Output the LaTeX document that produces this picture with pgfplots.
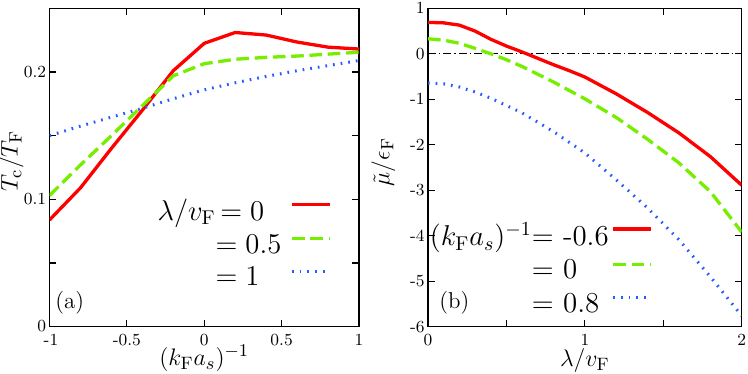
\documentclass[border=0pt]{standalone}
\usepackage{pgfplots}
\pgfplotsset{compat=1.18}
\definecolor{cred}{RGB}{255,0,0}
\definecolor{cgreen}{RGB}{118,238,0}
\definecolor{cblue}{RGB}{40,90,255}
\begin{document}
\begin{tikzpicture}
\path[use as bounding box] (0,0) rectangle (374bp,187bp);
\pgfplotsset{
  every axis/.append style={
    scale only axis, height=159.2bp,
    axis line style={line width=0.6bp},
    every tick/.style={black,line width=0.6bp},
    major tick length=3.5bp, tick align=inside,
    ticklabel style={font=\fontsize{8.5}{10}\selectfont},
    yticklabel style={inner sep=1.5bp},
    label style={font=\fontsize{13}{15}\selectfont},
    legend plot pos=right,
    legend cell align=left,
    legend image code/.code={\draw[##1] (0bp,3.3bp) -- (19bp,3.3bp);},
  },
  sred/.style={cred, line width=1.65bp},
  sgreen/.style={cgreen, line width=1.65bp, dash pattern=on 6.3bp off 2.85bp},
  sblue/.style={cblue, line width=1.5bp, dash pattern=on 0.85bp off 3bp},
}
\begin{axis}[at={(24.75bp,23.65bp)}, anchor=south west, width=154.75bp,
  xmin=-1, xmax=1, ymin=0, ymax=0.25,
  xtick={-1,-0.5,0,0.5,1}, xticklabels={\hspace{1.5bp}-1,-0.5,0,0.5,1},
  ytick={0,0.05,0.1,0.15,0.2,0.25}, yticklabels={\smash{\raisebox{-2.4bp}{0}}\hspace{5bp},{},0.1,{},0.2,{}},
  xlabel={$(k_{\rm F}a_s)^{-1}$}, ylabel={$T_{\rm c}/T_{\rm F}$},
  xlabel style={at={(axis description cs:0.5,-0.10)}, anchor=center},
  ylabel style={at={(axis description cs:-0.122,0.52)}, anchor=center},
  legend style={draw=none, fill=none, inner sep=0pt, font=\fontsize{14.5}{17}\selectfont,
    nodes={inner sep=0pt},
    at={(0.913,0.402)}, anchor=north east, column sep=4.5bp, row sep=5.5bp},
]
\addplot[sred] coordinates {(-1,0.0838)(-0.8,0.109)(-0.6,0.140)(-0.4,0.170)(-0.2,0.201)(0,0.2225)(0.2,0.231)(0.4,0.229)(0.6,0.2235)(0.8,0.2195)(1,0.218)};
\addplot[sgreen] coordinates {(-1,0.103)(-0.8,0.127)(-0.6,0.150)(-0.4,0.1735)(-0.2,0.197)(0,0.2065)(0.2,0.210)(0.4,0.2115)(0.6,0.2125)(0.8,0.214)(1,0.2155)};
\addplot[sblue] coordinates {(-1,0.150)(-0.8,0.1575)(-0.6,0.1645)(-0.4,0.1715)(-0.2,0.179)(0,0.186)(0.2,0.1915)(0.4,0.1965)(0.6,0.201)(0.8,0.205)(1,0.209)};
\legend{\llap{$\lambda/v_{\rm F}$}$\,=0$,$=0.5$,$=1$}
\node[anchor=west, inner sep=0pt, font=\fontsize{11.5}{13}\selectfont] at (rel axis cs:0.018,0.074) {(a)};
\end{axis}
\begin{axis}[at={(214bp,23.65bp)}, anchor=south west, width=156.85bp,
  xmin=0, xmax=2, ymin=-6, ymax=1,
  xtick={0,0.5,1,1.5,2}, xticklabels={0,{},1,{},2},
  ytick={-6,-5,-4,-3,-2,-1,0,1}, yticklabels={-6,-5,-4,-3,-2,-1,0,1},
  xlabel={$\lambda/v_{\rm F}$}, ylabel={$\tilde{\mu}/\epsilon_{\rm F}$},
  xlabel style={at={(axis description cs:0.5,-0.107)}, anchor=center},
  ylabel style={at={(axis description cs:-0.142,0.517)}, anchor=center},
  legend style={draw=none, fill=none, inner sep=0pt, font=\fontsize{14.5}{17}\selectfont,
    nodes={inner sep=0pt},
    at={(0.7185,0.3285)}, anchor=north east, column sep=1.5bp, row sep=5.5bp},
]
\addplot[black, line width=0.4bp, dash pattern=on 4bp off 1.5bp on 0.7bp off 1.5bp, forget plot] coordinates {(0,0)(2,0)};
\addplot[sred] coordinates {(0,0.69)(0.1,0.68)(0.2,0.63)(0.3,0.50)(0.4,0.32)(0.5,0.17)(0.6,0.04)(0.7,-0.1)(0.8,-0.24)(0.9,-0.37)(1.0,-0.51)(1.2,-0.88)(1.4,-1.29)(1.6,-1.74)(1.8,-2.26)(2.0,-2.89)};
\addplot[sgreen] coordinates {(0,0.33)(0.1,0.30)(0.2,0.23)(0.3,0.12)(0.4,0.0)(0.5,-0.13)(0.6,-0.28)(0.8,-0.62)(1.0,-0.99)(1.2,-1.40)(1.4,-1.88)(1.6,-2.40)(1.8,-3.03)(2.0,-3.92)};
\addplot[sblue] coordinates {(0,-0.645)(0.1,-0.66)(0.2,-0.73)(0.3,-0.84)(0.4,-0.975)(0.6,-1.30)(0.8,-1.71)(1.0,-2.18)(1.2,-2.77)(1.4,-3.39)(1.6,-4.09)(1.8,-4.90)(2.0,-5.76)};
\legend{\llap{$(k_{\rm F}a_s)^{-1}$}$=$ -0.6,$=$ 0,$=$ 0.8}
\node[anchor=west, inner sep=0pt, font=\fontsize{11.5}{13}\selectfont] at (rel axis cs:0.035,0.074) {(b)};
\end{axis}
\end{tikzpicture}
\end{document}
